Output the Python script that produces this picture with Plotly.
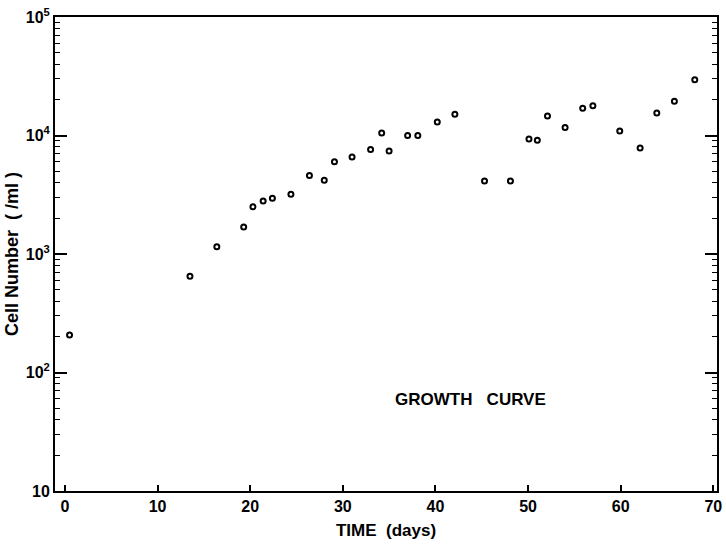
import plotly.graph_objects as go

# Culture time (days) and cell density (cells per ml)
time_days = [0.5, 13.5, 16.4, 19.3, 20.3, 21.4, 22.4, 24.4, 26.4, 28.0, 29.1, 31.0,
             33.0, 34.2, 35.0, 37.0, 38.1, 40.2, 42.1, 45.3, 48.1, 50.1, 51.0, 52.1,
             54.0, 55.9, 57.0, 59.9, 62.1, 63.9, 65.8, 68.0]
cells_per_ml = [207, 650, 1150, 1690, 2500, 2800, 2950, 3200, 4600, 4200, 6000, 6600,
                7600, 10500, 7400, 10000, 10000, 13000, 15100, 4130, 4130, 9330, 9130, 14600,
                11700, 17000, 17800, 10900, 7850, 15500, 19500, 29500]

x_ticks = [0, 10, 20, 30, 40, 50, 60, 70]
y_ticks = [10, 100, 1000, 10000, 100000]
y_tick_text = ["10", "10<sup>2</sup>", "10<sup>3</sup>", "10<sup>4</sup>", "10<sup>5</sup>"]

font_family = "Liberation Sans, Arial, sans-serif"

fig = go.Figure()
fig.add_trace(go.Scatter(
    x=time_days, y=cells_per_ml, mode="markers",
    marker=dict(symbol="circle-open", size=5, color="black", line=dict(width=2, color="black")),
    showlegend=False,
))

fig.add_annotation(
    x=43.8, y=1.77, xref="x", yref="y",
    text="<b>GROWTH   CURVE</b>", showarrow=False,
    font=dict(family=font_family, size=17, color="black"),
)

fig.update_xaxes(
    range=[-1.07, 70.4], tickvals=x_ticks, ticktext=[f"<b>{v}</b>" for v in x_ticks],
    ticks="inside", ticklen=6, tickwidth=1.5, tickcolor="black",
    showline=True, linecolor="black", linewidth=2, mirror=True,
    showgrid=False, zeroline=False,
    tickfont=dict(family=font_family, size=16, color="black"),
    title=dict(text="<b>TIME  (days)</b>", standoff=10,
               font=dict(family=font_family, size=17, color="black")),
)
fig.update_yaxes(
    type="log", range=[1, 5], tickvals=y_ticks,
    ticktext=[f"<b>{t}</b>" for t in y_tick_text],
    ticks="inside", ticklen=12, tickwidth=1.5, tickcolor="black",
    minor=dict(ticks="inside", ticklen=5, tickwidth=1.2, tickcolor="black",
               dtick="D1", showgrid=False),
    showline=True, linecolor="black", linewidth=2, mirror="allticks",
    showgrid=False, zeroline=False,
    tickfont=dict(family=font_family, size=16, color="black"),
    title=dict(text="<b>Cell Number  ( /ml )</b>", standoff=2,
               font=dict(family=font_family, size=18, color="black")),
)

fig.update_layout(
    width=726, height=547,
    margin=dict(l=55, r=4, t=17, b=56),
    paper_bgcolor="white", plot_bgcolor="white",
)

fig.write_html("out.html")
